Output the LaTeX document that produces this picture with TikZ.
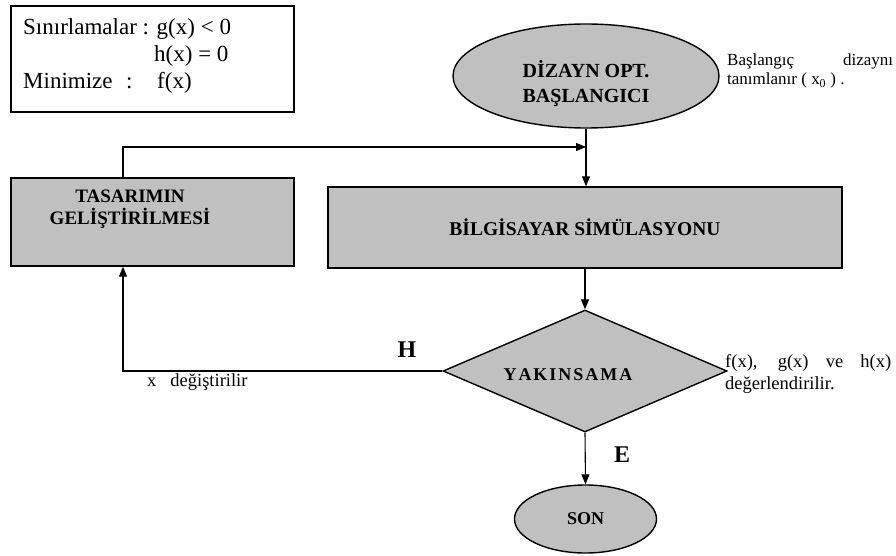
\documentclass[tikz,border=0pt]{standalone}
\usepackage{fontspec}
\setmainfont{Liberation Serif}
\usetikzlibrary{shapes.geometric,arrows.meta}
\definecolor{fillgray}{RGB}{192,192,192}
\newcommand{\ksp}{\kern2pt}
\begin{document}
\begin{tikzpicture}[x=1pt,y=-1pt,
  shapefill/.style={fill=fillgray,draw=black,line width=1.4pt},
  boxnode/.style={shapefill,rectangle,inner sep=0pt},
  conn/.style={line width=1.1pt,-{Triangle[length=10pt,width=8pt]}},
  txt/.style={inner sep=0pt,font=\fontsize{23}{27}\selectfont},
  smalltxt/.style={inner sep=0pt,font=\fontsize{17}{19}\selectfont},
  midtxt/.style={inner sep=0pt,font=\fontsize{18.5}{22}\selectfont},
  boldtxt/.style={inner sep=0pt,font=\fontsize{20}{25}\selectfont\bfseries},
  labtxt/.style={inner sep=0pt,font=\fontsize{24}{28}\selectfont\bfseries}]
\useasboundingbox (0,0) rectangle (896,556);

% constraint box
\node[draw,line width=1.4pt,minimum width=283pt,minimum height=106pt,inner sep=0pt] (cons) at (152.5,59) {};
\node[txt,anchor=base west] (c1) at (23,35) {Sınırlamalar : g(x) < 0};
\node[txt,anchor=base west] (c2) at (154,62) {h(x) = 0};
\node[txt,anchor=base west] (c3) at (23,89) {Minimize};
\node[txt,anchor=base west] (c3b) at (126,89) {:};
\node[txt,anchor=base west] (c3c) at (157,89) {f(x)};

% start ellipse
\node[ellipse,shapefill,minimum width=266pt,minimum height=104pt,inner sep=0pt] (start) at (586,76) {};
\node[boldtxt,align=center] (startt) at (586,83) {DİZAYN OPT.\\BAŞLANGICI};
\node[smalltxt,anchor=west,align=left] (bas) at (727,71)
  {\makebox[166pt][l]{Başlangıç\hfill dizaynı}\\tanımlanır ( x\textsubscript{0} ) .};

% simulation box
\node[boxnode,minimum width=514pt,minimum height=81pt,font=\fontsize{19.5}{23}\selectfont\bfseries] (sim) at (585,227.5) {BİLGİSAYAR SİMÜLASYONU};

% design improvement box
\node[boxnode,minimum width=283pt,minimum height=88pt] (design) at (152.5,222) {};
\node[boldtxt,font=\fontsize{19}{22}\selectfont\bfseries,align=center] (designt) at (130,209) {TASARIMIN\\GELİŞTİRİLMESİ};

% convergence diamond
\node[diamond,shapefill,minimum width=284pt,minimum height=122pt,inner sep=0pt] (dia) at (585,371) {};
\node[inner sep=0pt,font=\fontsize{18}{20}\selectfont\bfseries] (diat) at (568,375) {Y\ksp A\ksp K\ksp I\ksp N\ksp S\ksp A\ksp M\ksp A};
\node[midtxt,anchor=west,align=left] (fx) at (725,374) {\makebox[166pt][s]{f(x), g(x) ve h(x)}\\değerlendirilir.};

% end ellipse
\node[ellipse,shapefill,minimum width=142pt,minimum height=68pt,inner sep=0pt,font=\fontsize{18}{22}\selectfont\bfseries] (son) at (585.5,519) {SON};

% connectors
\coordinate (loopx) at (123,0);
\coordinate (join) at (586,147);
\draw[conn] (start.south) -- (start.south |- sim.north);
\draw[conn] (design.north -| loopx) |- (join);
\draw[conn] (sim.south -| dia.north) -- (dia.north);
\draw[conn] (dia.west) -| (design.south -| loopx);
\draw[conn] (dia.south) -- (son.north);

% labels
\node[labtxt] (H) at (407,350) {H};
\node[labtxt] (E) at (622,455) {E};
\node[midtxt,anchor=west] (xd) at (147,382) {x\hspace{14pt}değiştirilir};
\end{tikzpicture}
\end{document}
